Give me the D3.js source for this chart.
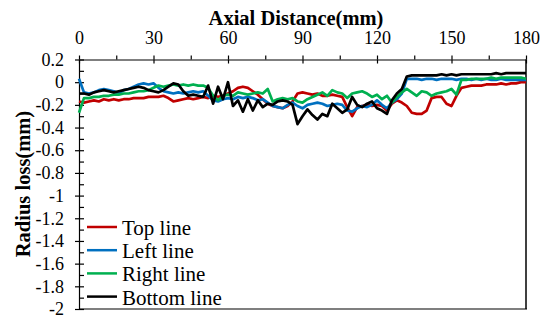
<!DOCTYPE html>
<html>
<head>
<meta charset="utf-8">
<script src="https://cdn.jsdelivr.net/npm/d3@7"></script>
<style>
  body { margin: 0; background: #fff; }
</style>
</head>
<body>
<svg id="chart" width="547" height="322"></svg>
<script>
// axial distance (mm), sampled every 2 mm
const distance = [
  0, 2, 4, 6, 8, 10, 12, 14, 16, 18,
  20, 22, 24, 26, 28, 30, 32, 34, 36, 38,
  40, 42, 44, 46, 48, 50, 52, 54, 56, 58,
  60, 62, 64, 66, 68, 70, 72, 74, 76, 78,
  80, 82, 84, 86, 88, 90, 92, 94, 96, 98,
  100, 102, 104, 106, 108, 110, 112, 114, 116, 118,
  120, 122, 124, 126, 128, 130, 132, 134, 136, 138,
  140, 142, 144, 146, 148, 150, 152, 154, 156, 158,
  160, 162, 164, 166, 168, 170, 172, 174, 176, 178,
  180
];

// radius loss (mm) for each line
const topLine = [
  -0.17, -0.18, -0.17, -0.16, -0.17, -0.15, -0.16, -0.15, -0.16, -0.15,
  -0.15, -0.14, -0.14, -0.14, -0.13, -0.13, -0.13, -0.12, -0.14, -0.17,
  -0.16, -0.15, -0.14, -0.15, -0.14, -0.13, -0.14, -0.12, -0.13, -0.12,
  -0.10, -0.08, -0.05, -0.04, -0.05, -0.08, -0.11, -0.15, -0.19, -0.21,
  -0.22, -0.23, -0.21, -0.17, -0.10, -0.09, -0.10, -0.11, -0.10, -0.12,
  -0.12, -0.11, -0.12, -0.13, -0.22, -0.30, -0.22, -0.21, -0.20, -0.21,
  -0.20, -0.21, -0.25, -0.19, -0.16, -0.18, -0.21, -0.27, -0.28, -0.28,
  -0.25, -0.14, -0.13, -0.13, -0.19, -0.21, -0.12, -0.05, -0.04, -0.03,
  -0.03, -0.03, -0.02, -0.02, -0.02, -0.01, -0.02, -0.01, -0.01, 0.00,
  0.00
];
const leftLine = [
  0.03, -0.09, -0.10, -0.09, -0.07, -0.06, -0.07, -0.08, -0.10, -0.07,
  -0.06, -0.04, -0.02, -0.01, -0.02, -0.01, -0.05, -0.08, -0.09, -0.10,
  -0.09, -0.10, -0.09, -0.08, -0.09, -0.08, -0.12, -0.16, -0.17, -0.15,
  -0.14, -0.15, -0.13, -0.14, -0.13, -0.14, -0.16, -0.15, -0.18, -0.21,
  -0.22, -0.23, -0.20, -0.18, -0.21, -0.23, -0.20, -0.19, -0.18, -0.19,
  -0.21, -0.20, -0.19, -0.20, -0.25, -0.26, -0.23, -0.21, -0.22, -0.20,
  -0.16, -0.20, -0.23, -0.18, -0.15, -0.10, 0.03, 0.03, 0.03, 0.02,
  0.03, 0.03, 0.02, 0.03, 0.03, 0.03, 0.02, 0.03, 0.03, 0.02,
  0.03, 0.02, 0.03, 0.02, 0.02, 0.03, 0.02, 0.02, 0.02, 0.02,
  0.02
];
const rightLine = [
  -0.27, -0.14, -0.14, -0.13, -0.13, -0.12, -0.12, -0.11, -0.11, -0.10,
  -0.10, -0.09, -0.08, -0.08, -0.07, -0.05, -0.03, -0.04, -0.03, -0.02,
  -0.03, -0.02, -0.03, -0.02, -0.03, -0.03, -0.05, -0.12, -0.16, -0.12,
  -0.11, -0.12, -0.09, -0.10, -0.11, -0.10, -0.09, -0.10, -0.06, -0.17,
  -0.15, -0.14, -0.15, -0.14, -0.17, -0.18, -0.15, -0.13, -0.11, -0.09,
  -0.12, -0.07, -0.09, -0.10, -0.14, -0.10, -0.09, -0.08, -0.10, -0.13,
  -0.11, -0.15, -0.12, -0.18, -0.13, -0.09, -0.06, -0.09, -0.12, -0.08,
  -0.09, -0.12, -0.10, -0.09, -0.08, -0.06, -0.11, 0.02, 0.02, 0.03,
  0.03, 0.03, 0.03, 0.04, 0.03, 0.04, 0.04, 0.04, 0.04, 0.04,
  0.03
];
const bottomLine = [
  -0.10, -0.10, -0.11, -0.09, -0.08, -0.07, -0.08, -0.09, -0.08, -0.07,
  -0.06, -0.05, -0.04, -0.05, -0.07, -0.08, -0.09, -0.07, -0.04, -0.01,
  -0.02, -0.08, -0.12, -0.11, -0.12, -0.13, -0.03, -0.19, -0.04, -0.15,
  0.00, -0.21, -0.16, -0.26, -0.15, -0.25, -0.16, -0.22, -0.19, -0.20,
  -0.17, -0.16, -0.17, -0.20, -0.37, -0.30, -0.24, -0.29, -0.33, -0.28,
  -0.30, -0.19, -0.23, -0.27, -0.24, -0.13, -0.20, -0.22, -0.19, -0.17,
  -0.23, -0.25, -0.28, -0.16, -0.10, -0.06, 0.05, 0.06, 0.06, 0.06,
  0.06, 0.06, 0.06, 0.07, 0.06, 0.07, 0.06, 0.07, 0.07, 0.07,
  0.07, 0.07, 0.07, 0.07, 0.08, 0.07, 0.08, 0.08, 0.08, 0.08,
  0.08
];

const seriesNames = ["Top line", "Left line", "Right line", "Bottom line"];
const seriesColors = ["#c00000", "#0070c0", "#00b050", "#000000"];

const xTicks = [0, 15, 30, 45, 60, 75, 90, 105, 120, 135, 150, 165, 180];
const xLabels = [0, 30, 60, 90, 120, 150, 180];
const yMajor = [0.2, 0, -0.2, -0.4, -0.6, -0.8, -1, -1.2, -1.4, -1.6, -1.8, -2];
const yLabels = ["0.2", "0", "-0.2", "-0.4", "-0.6", "-0.8", "-1", "-1.2", "-1.4", "-1.6", "-1.8", "-2"];
const yMinor = [0.1, -0.1, -0.3, -0.5, -0.7, -0.9, -1.1, -1.3, -1.5, -1.7, -1.9];

const serif = '"Liberation Serif", "Times New Roman", Times, serif';
const svg = d3.select('#chart');
const plotLeft = 79, plotRight = 526, plotTop = 59.5, plotBottom = 309;

const x = d3.scaleLinear().domain([0, 180]).range([plotLeft, plotRight]);
const y = d3.scaleLinear().domain([-2, 0.2]).range([plotBottom, plotTop]);

// frame: grey bottom edge and black right edge
svg.append('line')
  .attr('x1', plotLeft).attr('x2', plotRight + 1)
  .attr('y1', plotBottom).attr('y2', plotBottom)
  .style('stroke', '#7f7f7f').style('stroke-width', 2);
svg.append('line')
  .attr('x1', plotRight).attr('x2', plotRight)
  .attr('y1', plotTop).attr('y2', plotBottom)
  .style('stroke', '#000').style('stroke-width', 1.5);

// top x axis
let xAxis = d3.axisTop(x)
  .tickValues(xTicks)
  .tickSize(4)
  .tickSizeOuter(0)
  .tickPadding(11.5)
  .tickFormat(d => xLabels.includes(d) ? String(d) : '');
svg.append('g')
  .classed('x axis', true)
  .attr('transform', `translate(0,${plotTop})`)
  .call(xAxis);
// major ticks also cross into the plot
svg.append('g')
  .attr('transform', `translate(0,${plotTop})`)
  .call(d3.axisTop(x).tickValues(xLabels).tickSize(-4).tickSizeOuter(0).tickFormat(''))
  .call(g => g.select('.domain').remove());

// left y axis
svg.append('g')
  .classed('y axis', true)
  .attr('transform', `translate(${plotLeft},0)`)
  .call(d3.axisLeft(y)
    .tickValues(yMajor)
    .tickSize(4)
    .tickSizeOuter(0)
    .tickPadding(11)
    .tickFormat((d, i) => yLabels[i]));
svg.append('g')
  .attr('transform', `translate(${plotLeft},0)`)
  .call(d3.axisLeft(y).tickValues(yMajor.concat(yMinor)).tickSize(-5).tickSizeOuter(0).tickFormat(''))
  .call(g => g.select('.domain').remove());

svg.selectAll('.axis')
  .attr('font-family', serif)
  .attr('font-size', 18);
svg.selectAll('.axis text')
  .style('fill', '#000');
svg.selectAll('.tick line, .domain')
  .style('stroke', '#000')
  .style('stroke-width', 1.2);

// series lines
const seriesData = [topLine, leftLine, rightLine, bottomLine];
const line = d3.line()
  .x((d, i) => x(distance[i]))
  .y(d => y(d));

svg.append('g')
  .classed('lines', true)
  .selectAll('path')
  .data(seriesData)
  .enter()
  .append('path')
  .attr('d', d => line(d))
  .style('fill', 'none')
  .style('stroke', (d, i) => seriesColors[i])
  .style('stroke-width', 2.7)
  .style('stroke-linejoin', 'round');

// legend
let legend = svg.append('g')
  .classed('legend', true)
  .selectAll('g')
  .data(seriesNames)
  .enter()
  .append('g')
  .attr('transform', (d, i) => `translate(87,${227 + i * 23.2})`);
legend.append('line')
  .attr('x1', 0).attr('x2', 30)
  .attr('y1', 0).attr('y2', 0)
  .style('stroke', (d, i) => seriesColors[i])
  .style('stroke-width', 2.5);
legend.append('text')
  .attr('x', 35)
  .attr('y', 8)
  .style('font-family', serif)
  .style('font-size', '21px')
  .text(d => d);

// axis titles
svg.append('text')
  .attr('x', 296)
  .attr('y', 25)
  .style('text-anchor', 'middle')
  .style('font-family', serif)
  .style('font-size', '20.5px')
  .style('font-weight', 'bold')
  .text('Axial Distance(mm)');
svg.append('text')
  .attr('transform', 'translate(30,184) rotate(-90)')
  .style('text-anchor', 'middle')
  .style('font-family', serif)
  .style('font-size', '20.5px')
  .style('font-weight', 'bold')
  .text('Radius loss(mm)');
</script>
</body>
</html>
